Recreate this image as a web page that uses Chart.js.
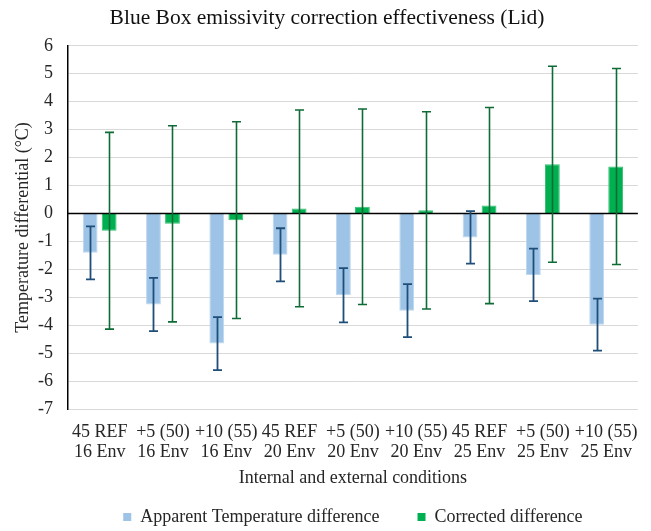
<!DOCTYPE html>
<html>
<head>
<meta charset="utf-8">
<script src="https://cdn.jsdelivr.net/npm/chart.js@4/dist/chart.umd.min.js"></script>
<style>
  html, body { margin: 0; padding: 0; background: #fff; }
  #wrap { width: 651px; height: 531px; position: relative; }
</style>
</head>
<body>
<div id="wrap"><canvas id="c" width="651" height="531"></canvas></div>
<script>
const categories = [
  ["45 REF", "16 Env"], ["+5 (50)", "16 Env"], ["+10 (55)", "16 Env"],
  ["45 REF", "20 Env"], ["+5 (50)", "20 Env"], ["+10 (55)", "20 Env"],
  ["45 REF", "25 Env"], ["+5 (50)", "25 Env"], ["+10 (55)", "25 Env"]
];
const apparentValues = [-1.41, -3.26, -4.66, -1.48, -2.93, -3.48, -0.86, -2.20, -3.98];
const apparentErrors = [0.95, 0.95, 0.95, 0.95, 0.97, 0.95, 0.94, 0.94, 0.93];
const correctedValues = [-0.62, -0.37, -0.24, 0.18, 0.24, 0.11, 0.28, 1.76, 1.68];
const correctedErrors = [3.52, 3.51, 3.52, 3.52, 3.50, 3.53, 3.51, 3.51, 3.51];
const yTicks = [6, 5, 4, 3, 2, 1, 0, -1, -2, -3, -4, -5, -6, -7];

const FONT = "'Liberation Serif', 'Times New Roman', serif";

const errorBarPlugin = {
  id: 'errorBars',
  afterDatasetsDraw(chart) {
    const ctx = chart.ctx;
    const y = chart.scales.y;
    chart.data.datasets.forEach((ds, di) => {
      const meta = chart.getDatasetMeta(di);
      if (meta.hidden) return;
      ctx.save();
      ctx.strokeStyle = ds.errorColor;
      ctx.lineWidth = ds.errorWidth;
      meta.data.forEach((el, i) => {
        const v = ds.data[i], e = ds.errors[i];
        const x = Math.round(el.x) + 0.5;
        const yt = y.getPixelForValue(v + e);
        const yb = y.getPixelForValue(v - e);
        ctx.beginPath();
        ctx.moveTo(x, yt); ctx.lineTo(x, yb);
        ctx.moveTo(x - 4.5, yt); ctx.lineTo(x + 4.5, yt);
        ctx.moveTo(x - 4.5, yb); ctx.lineTo(x + 4.5, yb);
        ctx.stroke();
      });
      ctx.restore();
    });
  }
};

const zeroLinePlugin = {
  id: 'zeroLine',
  afterDatasetsDraw(chart) {
    const ctx = chart.ctx, y = chart.scales.y, a = chart.chartArea;
    const py = Math.round(y.getPixelForValue(0)) + 0.5;
    ctx.save();
    ctx.strokeStyle = '#000';
    ctx.lineWidth = 1.5;
    ctx.beginPath();
    ctx.moveTo(a.left, py); ctx.lineTo(a.right, py);
    ctx.stroke();
    ctx.restore();
  }
};

new Chart(document.getElementById('c'), {
  type: 'bar',
  data: {
    labels: categories,
    datasets: [
      {
        label: 'Apparent Temperature difference',
        data: apparentValues,
        errors: apparentErrors,
        backgroundColor: '#9DC3E6',
        borderColor: '#BDD7EE',
        borderWidth: 1,
        errorColor: '#1F4E79',
        errorWidth: 1.8,
        categoryPercentage: 0.6,
        barPercentage: 0.78
      },
      {
        label: 'Corrected difference',
        data: correctedValues,
        errors: correctedErrors,
        backgroundColor: '#00B050',
        borderColor: '#33C070',
        borderWidth: 1,
        errorColor: '#0E6B35',
        errorWidth: 1.6,
        categoryPercentage: 0.6,
        barPercentage: 0.78
      }
    ]
  },
  options: {
    responsive: false,
    animation: false,
    devicePixelRatio: 1,
    layout: { padding: { left: 12, right: 9, top: 3, bottom: -5 } },
    plugins: {
      title: {
        display: true,
        text: 'Blue Box emissivity correction effectiveness (Lid)',
        color: '#111',
        font: { family: FONT, size: 21.5, weight: 'normal' },
        padding: { top: 2, bottom: 15 }
      },
      legend: {
        position: 'bottom',
        fullSize: false,
        labels: {
          color: '#262626',
          font: { family: FONT, size: 18 },
          boxWidth: 8,
          boxHeight: 8,
          padding: 2,
          generateLabels(chart) {
            return chart.data.datasets.map((ds, i) => ({
              text: i === 0 ? ds.label + '        ' : ds.label,
              fillStyle: ds.backgroundColor,
              strokeStyle: ds.backgroundColor,
              lineWidth: 0,
              hidden: false,
              datasetIndex: i,
              fontColor: '#262626'
            }));
          }
        }
      },
      tooltip: { enabled: false }
    },
    scales: {
      x: {
        afterFit(scale) { scale.height = 97; },
        grid: { display: false, drawTicks: false },
        border: { display: false },
        ticks: {
          color: '#262626',
          font: { family: FONT, size: 18, lineHeight: 1.11 },
          padding: 13,
          maxRotation: 0,
          autoSkip: false
        },
        title: {
          display: true,
          text: 'Internal and external conditions',
          color: '#262626',
          font: { family: FONT, size: 18 },
          padding: { top: 5, bottom: 17 }
        }
      },
      y: {
        min: -7,
        max: 6,
        afterFit(scale) { scale.width = 56; },
        afterBuildTicks(scale) { scale.ticks = yTicks.map(v => ({ value: v })); },
        grid: { color: '#D9D9D9', lineWidth: 1, drawTicks: false },
        border: { display: true, color: '#000', width: 1.5 },
        ticks: {
          color: '#262626',
          font: { family: FONT, size: 18 },
          padding: 15
        },
        title: {
          display: true,
          text: 'Temperature differential (°C)',
          color: '#262626',
          font: { family: FONT, size: 18 },
          padding: { top: 0, bottom: 4 }
        }
      }
    }
  },
  plugins: [zeroLinePlugin, errorBarPlugin]
});
</script>
</body>
</html>
